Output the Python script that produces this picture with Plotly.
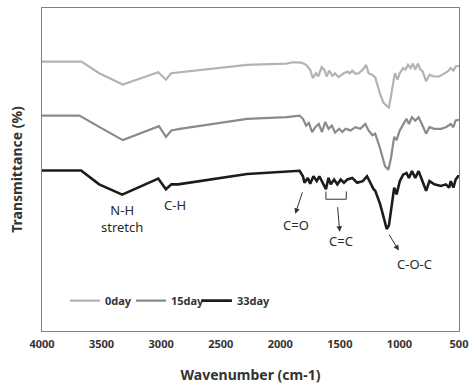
import plotly.graph_objects as go

# ---- data (wavenumber cm-1, transmittance arbitrary %) ----
wn_0day = [4000, 3669, 3520, 3322, 3024, 2960, 2916, 2844, 2279, 1948, 1893, 1824, 1783, 1749,
           1727, 1700, 1681, 1653, 1631, 1611, 1590, 1562, 1540, 1512, 1490, 1466, 1437, 1418,
           1396, 1369, 1342, 1308, 1280, 1259, 1226, 1203, 1162, 1135, 1107, 1088, 1071, 1052,
           1038, 1016, 997, 969, 949, 928, 906, 887, 867, 845, 823, 804, 776, 748, 707, 666,
           624, 597, 569, 547, 528, 508, 500]
t_0day = [83.4, 83.4, 79.8, 76.3, 80.1, 77.8, 79.8, 80.1, 82.4, 82.8, 83.2, 83.1, 82.4, 80.9,
          78.3, 79.8, 78.8, 81.7, 80.9, 78.8, 80.6, 79.0, 79.8, 78.6, 79.3, 79.8, 80.3, 79.8,
          80.6, 79.6, 79.8, 80.9, 82.4, 79.8, 79.3, 78.5, 73.3, 70.7, 69.7, 69.2, 72.7, 76.8,
          79.8, 77.8, 79.8, 81.4, 80.9, 82.4, 81.4, 82.8, 80.9, 82.8, 80.9, 80.3, 77.3, 79.3,
          78.8, 78.8, 79.8, 80.3, 81.4, 80.6, 81.9, 82.1, 82.1]

wn_15day = [4000, 3686, 3520, 3322, 3018, 2960, 2914, 2844, 2279, 1948, 1838, 1810, 1783, 1760,
            1733, 1706, 1677, 1650, 1623, 1595, 1567, 1540, 1507, 1479, 1452, 1410, 1369, 1328,
            1286, 1259, 1226, 1203, 1162, 1121, 1093, 1071, 1044, 1024, 997, 969, 941, 920,
            895, 867, 839, 812, 776, 748, 707, 652, 610, 569, 547, 528, 508, 500]
t_15day = [66.7, 66.7, 63.2, 59.1, 63.4, 60.1, 62.1, 62.6, 65.7, 66.2, 66.7, 65.7, 63.6, 64.4,
           61.6, 63.1, 64.1, 61.6, 64.7, 62.6, 63.6, 61.4, 62.6, 61.6, 62.6, 62.1, 63.1, 62.6,
           64.1, 62.1, 60.6, 61.1, 56.5, 51.0, 49.9, 53.5, 60.1, 59.1, 62.1, 64.1, 65.7, 64.1,
           66.2, 65.1, 66.2, 64.1, 61.1, 63.1, 62.6, 62.6, 63.1, 64.1, 63.1, 65.2, 65.4, 65.4]

wn_33day = [4000, 3672, 3520, 3327, 3024, 2960, 2914, 2858, 2279, 1948, 1838, 1810, 1797, 1769,
            1749, 1722, 1694, 1672, 1644, 1617, 1595, 1576, 1548, 1521, 1493, 1466, 1437, 1396,
            1355, 1308, 1272, 1245, 1217, 1203, 1176, 1162, 1126, 1107, 1088, 1071, 1044, 1024,
            997, 969, 941, 920, 895, 867, 839, 812, 776, 748, 707, 652, 610, 583, 569, 547,
            528, 508, 500]
t_33day = [49.7, 49.7, 45.4, 42.2, 47.2, 43.9, 45.4, 45.4, 48.6, 49.2, 49.6, 47.9, 45.9, 47.4,
           45.6, 47.9, 46.4, 47.9, 45.9, 43.9, 47.4, 45.4, 46.9, 45.4, 46.9, 45.9, 46.9, 47.4,
           45.9, 46.4, 47.9, 45.9, 43.9, 43.4, 40.8, 39.3, 34.3, 31.6, 32.7, 37.3, 44.4, 42.3,
           46.4, 48.4, 48.9, 47.4, 49.5, 47.4, 49.5, 46.9, 43.4, 46.4, 45.4, 44.9, 45.4, 44.4,
           46.4, 44.4, 46.9, 47.9, 47.9]

series_names = ["0day", "15day", "33day"]
series_colors = ["#b3b3b3", "#8a8a8a", "#1c1c1c"]
series_widths = [2.2, 2.2, 2.6]

tick_vals = [4000, 3500, 3000, 2500, 2000, 1500, 1000, 500]
tick_text = ["4000", "3500", "3000", "2500", "2000", "1500", "1000", "500"]

FONT = "Noto Sans"

fig = go.Figure()
for name, wn, t, col, lw in zip(series_names, [wn_0day, wn_15day, wn_33day],
                                [t_0day, t_15day, t_33day], series_colors, series_widths):
    fig.add_trace(go.Scatter(x=wn, y=t, mode="lines", name=name,
                             line=dict(color=col, width=lw)))

# invisible spacer legend entry so the last label is not clipped
fig.add_trace(go.Scatter(x=[None], y=[None], mode="lines", name=" ",
                         line=dict(color="rgba(0,0,0,0)", width=0), hoverinfo="skip"))

# text labels
labels = [
    ("N-H<br>stretch", 3330, 34.7),
    ("C-H", 2886, 39.1),
    ("C=O", 1871, 32.9),
    ("C=C", 1493, 28.0),
    ("C-O-C", 877, 20.8),
]
for txt, x, y in labels:
    fig.add_annotation(x=x, y=y, text=txt, showarrow=False, xref="x", yref="y",
                       font=dict(family=FONT, size=13, color="#2a2a2a"))

# arrows (head, tail)
arrows = [
    (1874, 36.3, 1810, 43.4),
    (1501, 30.7, 1520, 38.8),
    (1005, 24.9, 1093, 30.2),
]
for x, y, ax, ay in arrows:
    fig.add_annotation(x=x, y=y, ax=ax, ay=ay, xref="x", yref="y", axref="x", ayref="y",
                       text="", showarrow=True, arrowhead=2, arrowsize=1.1, arrowwidth=1,
                       arrowcolor="#333333")

# bracket for C=C
fig.add_shape(type="path", xref="x", yref="y",
              path="M 1617,43.2 L 1617,40.8 L 1446,40.8 L 1446,43.2",
              line=dict(color="#333333", width=1))

fig.update_layout(
    width=475, height=387,
    margin=dict(l=42, r=10, t=7, b=51),
    paper_bgcolor="white", plot_bgcolor="white",
    showlegend=True,
    legend=dict(orientation="h", x=0.055, y=0.094, xanchor="left", yanchor="middle",
                bgcolor="rgba(0,0,0,0)", itemwidth=30, entrywidth=21, entrywidthmode="pixels",
                font=dict(family=FONT, size=11, color="#333333", weight="bold")),
    xaxis=dict(range=[4000, 500], tickvals=tick_vals, ticktext=tick_text,
               showgrid=False, zeroline=False, ticks="", showline=True, mirror=True,
               linecolor="#7f7f7f", linewidth=1, ticklabelstandoff=3,
               tickfont=dict(family=FONT, size=11, color="#333333", weight="bold"),
               title=dict(text="Wavenumber (cm-1)", standoff=19,
                          font=dict(family=FONT, size=14, color="#333333", weight="bold"))),
    yaxis=dict(range=[0, 100], showticklabels=False, showgrid=False, zeroline=False,
               ticks="", showline=True, mirror=True, linecolor="#7f7f7f", linewidth=1,
               title=dict(text="Transmittance (%)", standoff=15,
                          font=dict(family=FONT, size=14, color="#333333", weight="bold"))),
)

fig.write_html("out.html")
